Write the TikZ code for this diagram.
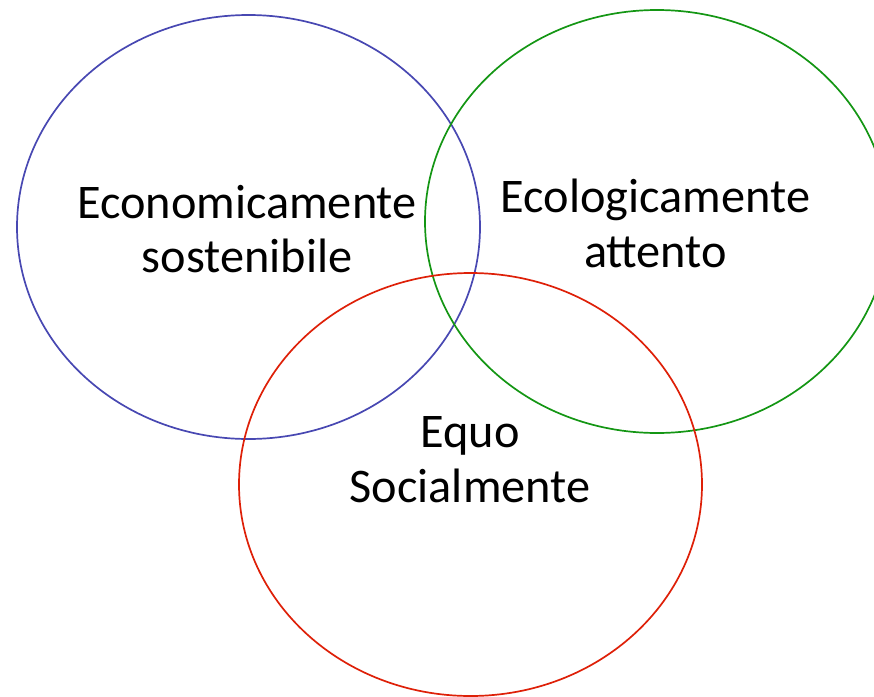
\documentclass[tikz,border=0pt]{standalone}
\usepackage{fontspec}
\setmainfont{Carlito}
\definecolor{cblue}{RGB}{72,72,178}
\definecolor{cgreen}{RGB}{20,150,20}
\definecolor{cred}{RGB}{222,32,8}
\tikzset{
  ring/.style={line width=1.7pt},
  lbl/.style={anchor=base, inner sep=0pt, font=\fontsize{48.3}{55}\selectfont, text=black}
}
\begin{document}
\begin{tikzpicture}[x=1pt,y=-1pt]
\useasboundingbox (0,0) rectangle (874,696);
\clip (0,0) rectangle (874,696);
\draw[ring, cblue] (248.5,227) ellipse [x radius=231.5pt, y radius=212pt];
\draw[ring, cgreen] (657,221.5) ellipse [x radius=232pt, y radius=211.5pt];
\draw[ring, cred] (470.5,484.5) ellipse [x radius=231.5pt, y radius=211.5pt];
\node[lbl] (eco1) at (247,218) {Economicamente};
\node[lbl] (eco2) at (247,272) {sostenibile};
\node[lbl] (ecol1) at (655.5,212) {Ecologicamente};
\node[lbl] (ecol2) at (655.5,267) {attento};
\node[lbl] (soc1) at (470,447) {Equo};
\node[lbl] (soc2) at (470,502) {Socialmente};
\end{tikzpicture}
\end{document}
